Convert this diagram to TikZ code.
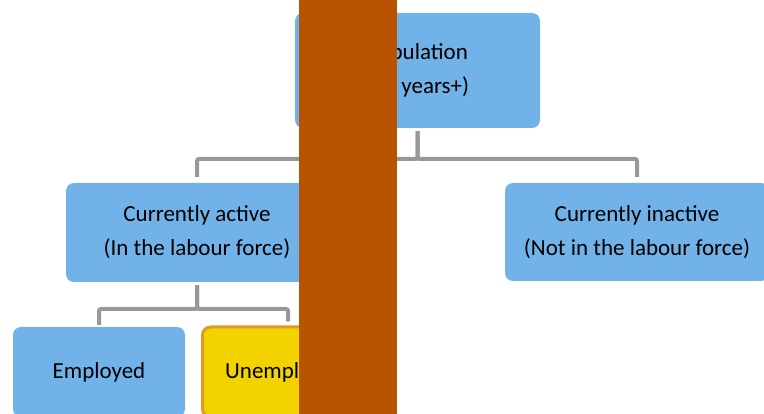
\documentclass[tikz,border=0pt]{standalone}
\usepackage{fontspec}
\setmainfont{Carlito}
\definecolor{boxblue}{HTML}{71B3E8}
\definecolor{conngray}{HTML}{98989C}
\definecolor{unyellow}{HTML}{F2D300}
\definecolor{unorange}{HTML}{E29A24}
\definecolor{barbrown}{HTML}{B85400}
\tikzset{
  box/.style={rectangle, rounded corners=8pt, fill=boxblue, inner sep=0pt,
    align=center, font=\fontsize{23}{34}\selectfont},
  conn/.style={draw=conngray, line width=4pt, rounded corners=2pt},
}
\begin{document}
\begin{tikzpicture}[x=1pt,y=-1pt]
\useasboundingbox (0,0) rectangle (764,414);
\clip (0,0) rectangle (764,414);
\node[box, minimum width=245pt, minimum height=115pt] (top) at (417.5,70.5) {Population\\(15 years+)};
\node[box, minimum width=262pt, minimum height=99pt] (act) at (197,232.5) {Currently active\\(In the labour force)};
\node[box, minimum width=264pt, minimum height=98pt] (inact) at (637,232) {Currently inactive\\(Not in the labour force)};
\node[box, minimum width=172pt, minimum height=90pt] (emp) at (99,372) {Employed};
\node[box, fill=unyellow, draw=unorange, line width=3pt, minimum width=173pt, minimum height=90pt] (unemp) at (289,372) {Unemployed\hspace*{8pt}};
\coordinate (m1) at (0,156);
\coordinate (m2) at (0,306);
\draw[conn] ([yshift=-3pt]top.south) -- ([yshift=-3pt]top.south |- m1) -| ([yshift=6pt]act.north);
\draw[conn] ([yshift=-3pt]top.south) -- ([yshift=-3pt]top.south |- m1) -| ([yshift=6pt]inact.north);
\draw[conn] ([yshift=-3pt]act.south) -- ([yshift=-3pt]act.south |- m2) -| ([yshift=2pt]emp.north);
\draw[conn] ([yshift=-3pt]act.south) -- ([yshift=-3pt]act.south |- m2) -| ([yshift=4pt,xshift=-1pt]unemp.north);
\node[fill=barbrown, inner sep=0pt, minimum width=98pt, minimum height=414pt] (bar) at (348,207) {};
\end{tikzpicture}
\end{document}
